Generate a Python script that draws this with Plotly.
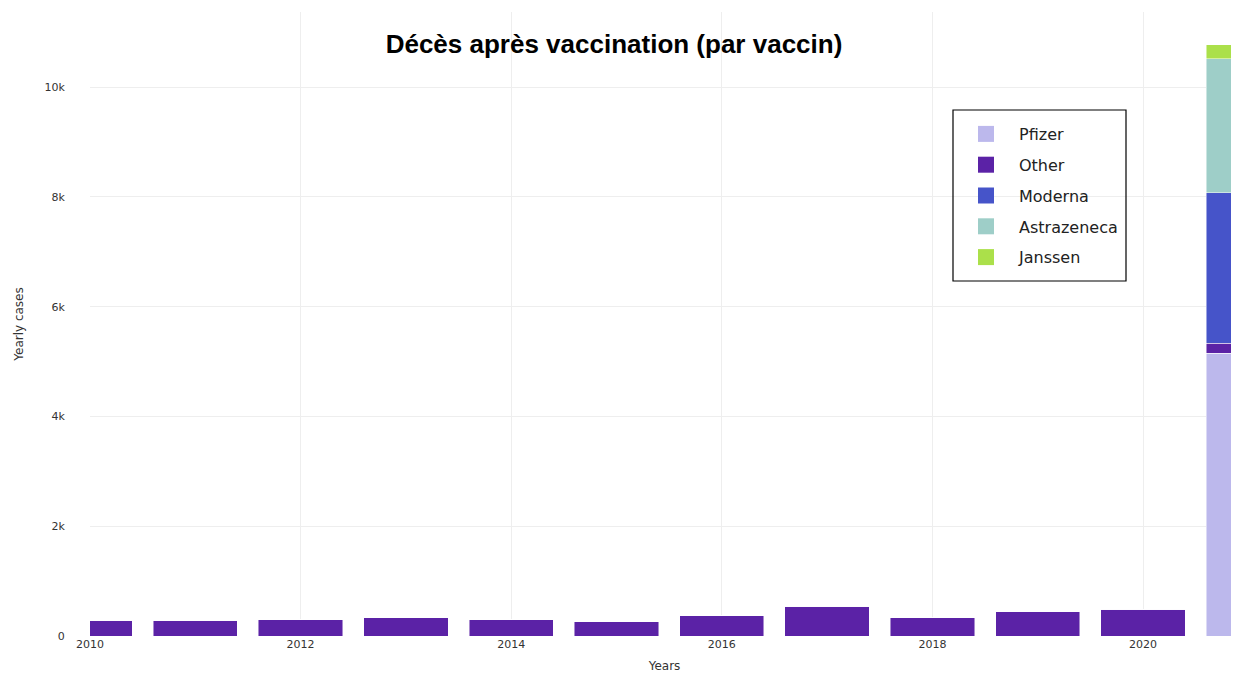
import plotly.graph_objects as go

years = [2010, 2011, 2012, 2013, 2014, 2015, 2016, 2017, 2018, 2019, 2020, 2021]
pfizer = [0, 0, 0, 0, 0, 0, 0, 0, 0, 0, 0, 5150]
other = [286, 290, 300, 330, 300, 262, 370, 546, 330, 440, 490, 180]
moderna = [0, 0, 0, 0, 0, 0, 0, 0, 0, 0, 0, 2750]
astrazeneca = [0, 0, 0, 0, 0, 0, 0, 0, 0, 0, 0, 2440]
janssen = [0, 0, 0, 0, 0, 0, 0, 0, 0, 0, 0, 255]

series = [
    ("Pfizer", pfizer, "#bcb8ec"),
    ("Other", other, "#5b22a6"),
    ("Moderna", moderna, "#4654c9"),
    ("Astrazeneca", astrazeneca, "#9ecec8"),
    ("Janssen", janssen, "#abe04a"),
]

fig = go.Figure()
for name, vals, col in series:
    fig.add_trace(go.Bar(
        x=years, y=vals, name=name, legendgroup=name, showlegend=False,
        marker=dict(color=col, line=dict(color="rgba(255,255,255,0.8)", width=0.6)),
    ))
# legend entries (larger square swatches)
for name, vals, col in series:
    fig.add_trace(go.Scatter(
        x=[None], y=[None], mode="markers", name=name, legendgroup=name,
        marker=dict(symbol="square", size=18, color=col), hoverinfo="skip",
    ))

PL = 82          # left margin
PW = 1149        # plot width
PH = 624         # plot height
T = 4
B = 37
W = PL + PW
H = T + PH + B

def px(x):
    return (x - 8 - PL) / PW

def py(y):
    return (T + PH - (y - 8)) / PH

fig.update_layout(
    width=W, height=H,
    barmode="stack", bargap=0.2,
    plot_bgcolor="white", paper_bgcolor="white",
    margin=dict(l=PL, r=0, t=T, b=B),
    title=dict(text="<b>Décès après vaccination (par vaccin)</b>", x=(614 - 8) / W, xref="container",
               xanchor="center", y=1 - (44 - 8) / H, yref="container", yanchor="middle",
               font=dict(family="Liberation Sans, Arial", size=26, color="black")),
    font=dict(family="DejaVu Sans, Verdana", color="#333"),
    legend=dict(x=px(953), y=py(117), xanchor="left", yanchor="top",
                bordercolor="rgba(0,0,0,0)", borderwidth=0, traceorder="grouped",
                tracegroupgap=7, itemwidth=56, bgcolor="rgba(0,0,0,0)",
                font=dict(family="DejaVu Sans, Verdana", size=16, color="#222")),
    shapes=[dict(type="rect", xref="paper", yref="paper",
                 x0=px(953), x1=px(1126), y0=py(281), y1=py(110),
                 line=dict(color="black", width=1.2), fillcolor="rgba(0,0,0,0)")],
    xaxis=dict(range=[2010, 2010 + PW / 105.3], tickvals=[2010, 2012, 2014, 2016, 2018, 2020],
               showgrid=True, gridcolor="#eeeeee", zeroline=False,
               tickfont=dict(size=11, color="#333"),
               title=dict(text="Years", font=dict(size=12, color="#333"), standoff=15)),
    yaxis=dict(range=[0, 11370], tickvals=[0, 2000, 4000, 6000, 8000, 10000],
               ticktext=["0", "2k", "4k", "6k", "8k", "10k"],
               showgrid=True, gridcolor="#eeeeee", zeroline=False,
               ticks="outside", ticklen=22, tickcolor="rgba(0,0,0,0)",
               tickfont=dict(size=11, color="#333"),
               title=dict(text="Yearly cases", font=dict(size=12, color="#333"), standoff=18)),
)

fig.write_html("out.html")
